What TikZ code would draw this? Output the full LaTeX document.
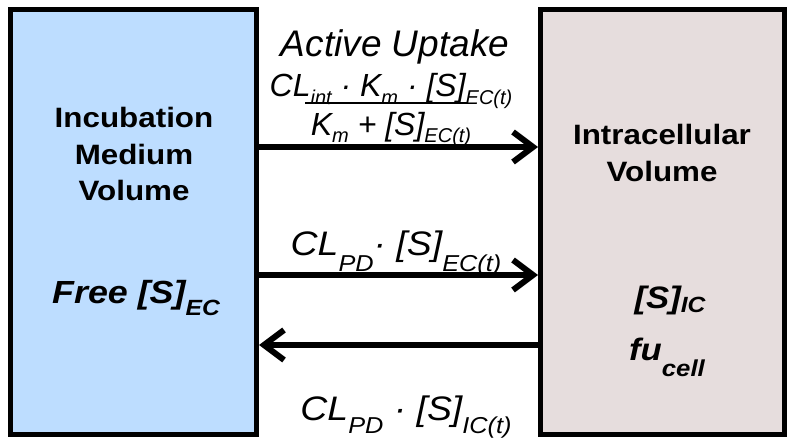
\documentclass[tikz,border=0pt]{standalone}
\usepackage{fontspec}
\setmainfont{Liberation Sans}
\newfontfamily\boxfont[FakeStretch=1.12]{Liberation Sans}
\newfontfamily\labfont[FakeStretch=1.1]{Liberation Sans}
\usetikzlibrary{arrows.meta}
\definecolor{ecfill}{RGB}{189,221,255}
\definecolor{icfill}{RGB}{230,221,221}
\newcommand{\sbs}[3]{\raisebox{-#1}{\fontsize{#2}{#2}\selectfont #3}}
\tikzset{
  compartment/.style={draw=black, line width=5pt, inner sep=0pt},
  arr/.style={line width=6pt, -{Straight Barb[length=20pt,width=30pt]}},
  boxtxt/.style={anchor=base, inner sep=0pt, font=\boxfont\bfseries\fontsize{28}{34}\selectfont},
  boxmath/.style={anchor=base, inner sep=0pt, font=\boxfont\bfseries\itshape},
  lbl/.style={anchor=base, inner sep=0pt, font=\itshape}
}
\begin{document}
\begin{tikzpicture}[x=1pt,y=-1pt]
\useasboundingbox (0,0) rectangle (788,441);
% compartments
\node[compartment, fill=ecfill, minimum width=246pt, minimum height=425pt] (ec) at (133.5,222) {};
\node[compartment, fill=icfill, minimum width=244pt, minimum height=425pt] (ic) at (662.5,222) {};
% box texts
\node[boxtxt] (inc) at (134,128) {Incubation};
\node[boxtxt] (med) at (134,165) {Medium};
\node[boxtxt] (vol) at (134,201) {Volume};
\node[boxmath, font=\boxfont\bfseries\itshape\fontsize{32}{34}\selectfont] (free) at (136,303) {Free [S]\sbs{12pt}{22}{EC}};
\node[boxtxt] (intra) at (662,145) {Intracellular};
\node[boxtxt] (vol2) at (662,182) {Volume};
\node[boxmath, font=\boxfont\bfseries\itshape\fontsize{31}{34}\selectfont] (sic) at (670,308) {[S]\sbs{5pt}{22}{IC}};
\node[boxmath, font=\boxfont\bfseries\itshape\fontsize{31}{34}\selectfont] (fu) at (667,360) {fu\sbs{16pt}{23}{cell}};
% arrows
\coordinate (y1) at (0,147);
\coordinate (y2) at (0,275);
\coordinate (y3) at (0,345);
\draw[arr] (ec.east |- y1) -- (ic.west |- y1);
\draw[arr] (ec.east |- y2) -- (ic.west |- y2);
\draw[arr] (ic.west |- y3) -- (ec.east |- y3);
% labels
\node[lbl, font=\itshape\fontsize{37}{40}\selectfont] (au) at (395,57) {Active Uptake};
\node[lbl, font=\itshape\fontsize{32}{36}\selectfont] (num) at (391,97) {CL\sbs{8pt}{20}{int} · K\sbs{8pt}{20}{m} · [S]\sbs{8pt}{20}{EC(t)}};
\draw[line width=2pt] (305,103) -- (468,103);
\node[lbl, font=\itshape\fontsize{32}{36}\selectfont] (den) at (391,136) {K\sbs{7pt}{20}{m} + [S]\sbs{7pt}{20}{EC(t)}};
\node[lbl, font=\labfont\itshape\fontsize{34}{36}\selectfont] (pd1) at (396,255) {CL\sbs{16pt}{23}{PD}· [S]\sbs{16pt}{23}{EC(t)}};
\node[lbl, font=\labfont\itshape\fontsize{34}{36}\selectfont] (pd2) at (406,420) {CL\sbs{13pt}{23}{PD} · [S]\sbs{13pt}{23}{IC(t)}};
\end{tikzpicture}
\end{document}
